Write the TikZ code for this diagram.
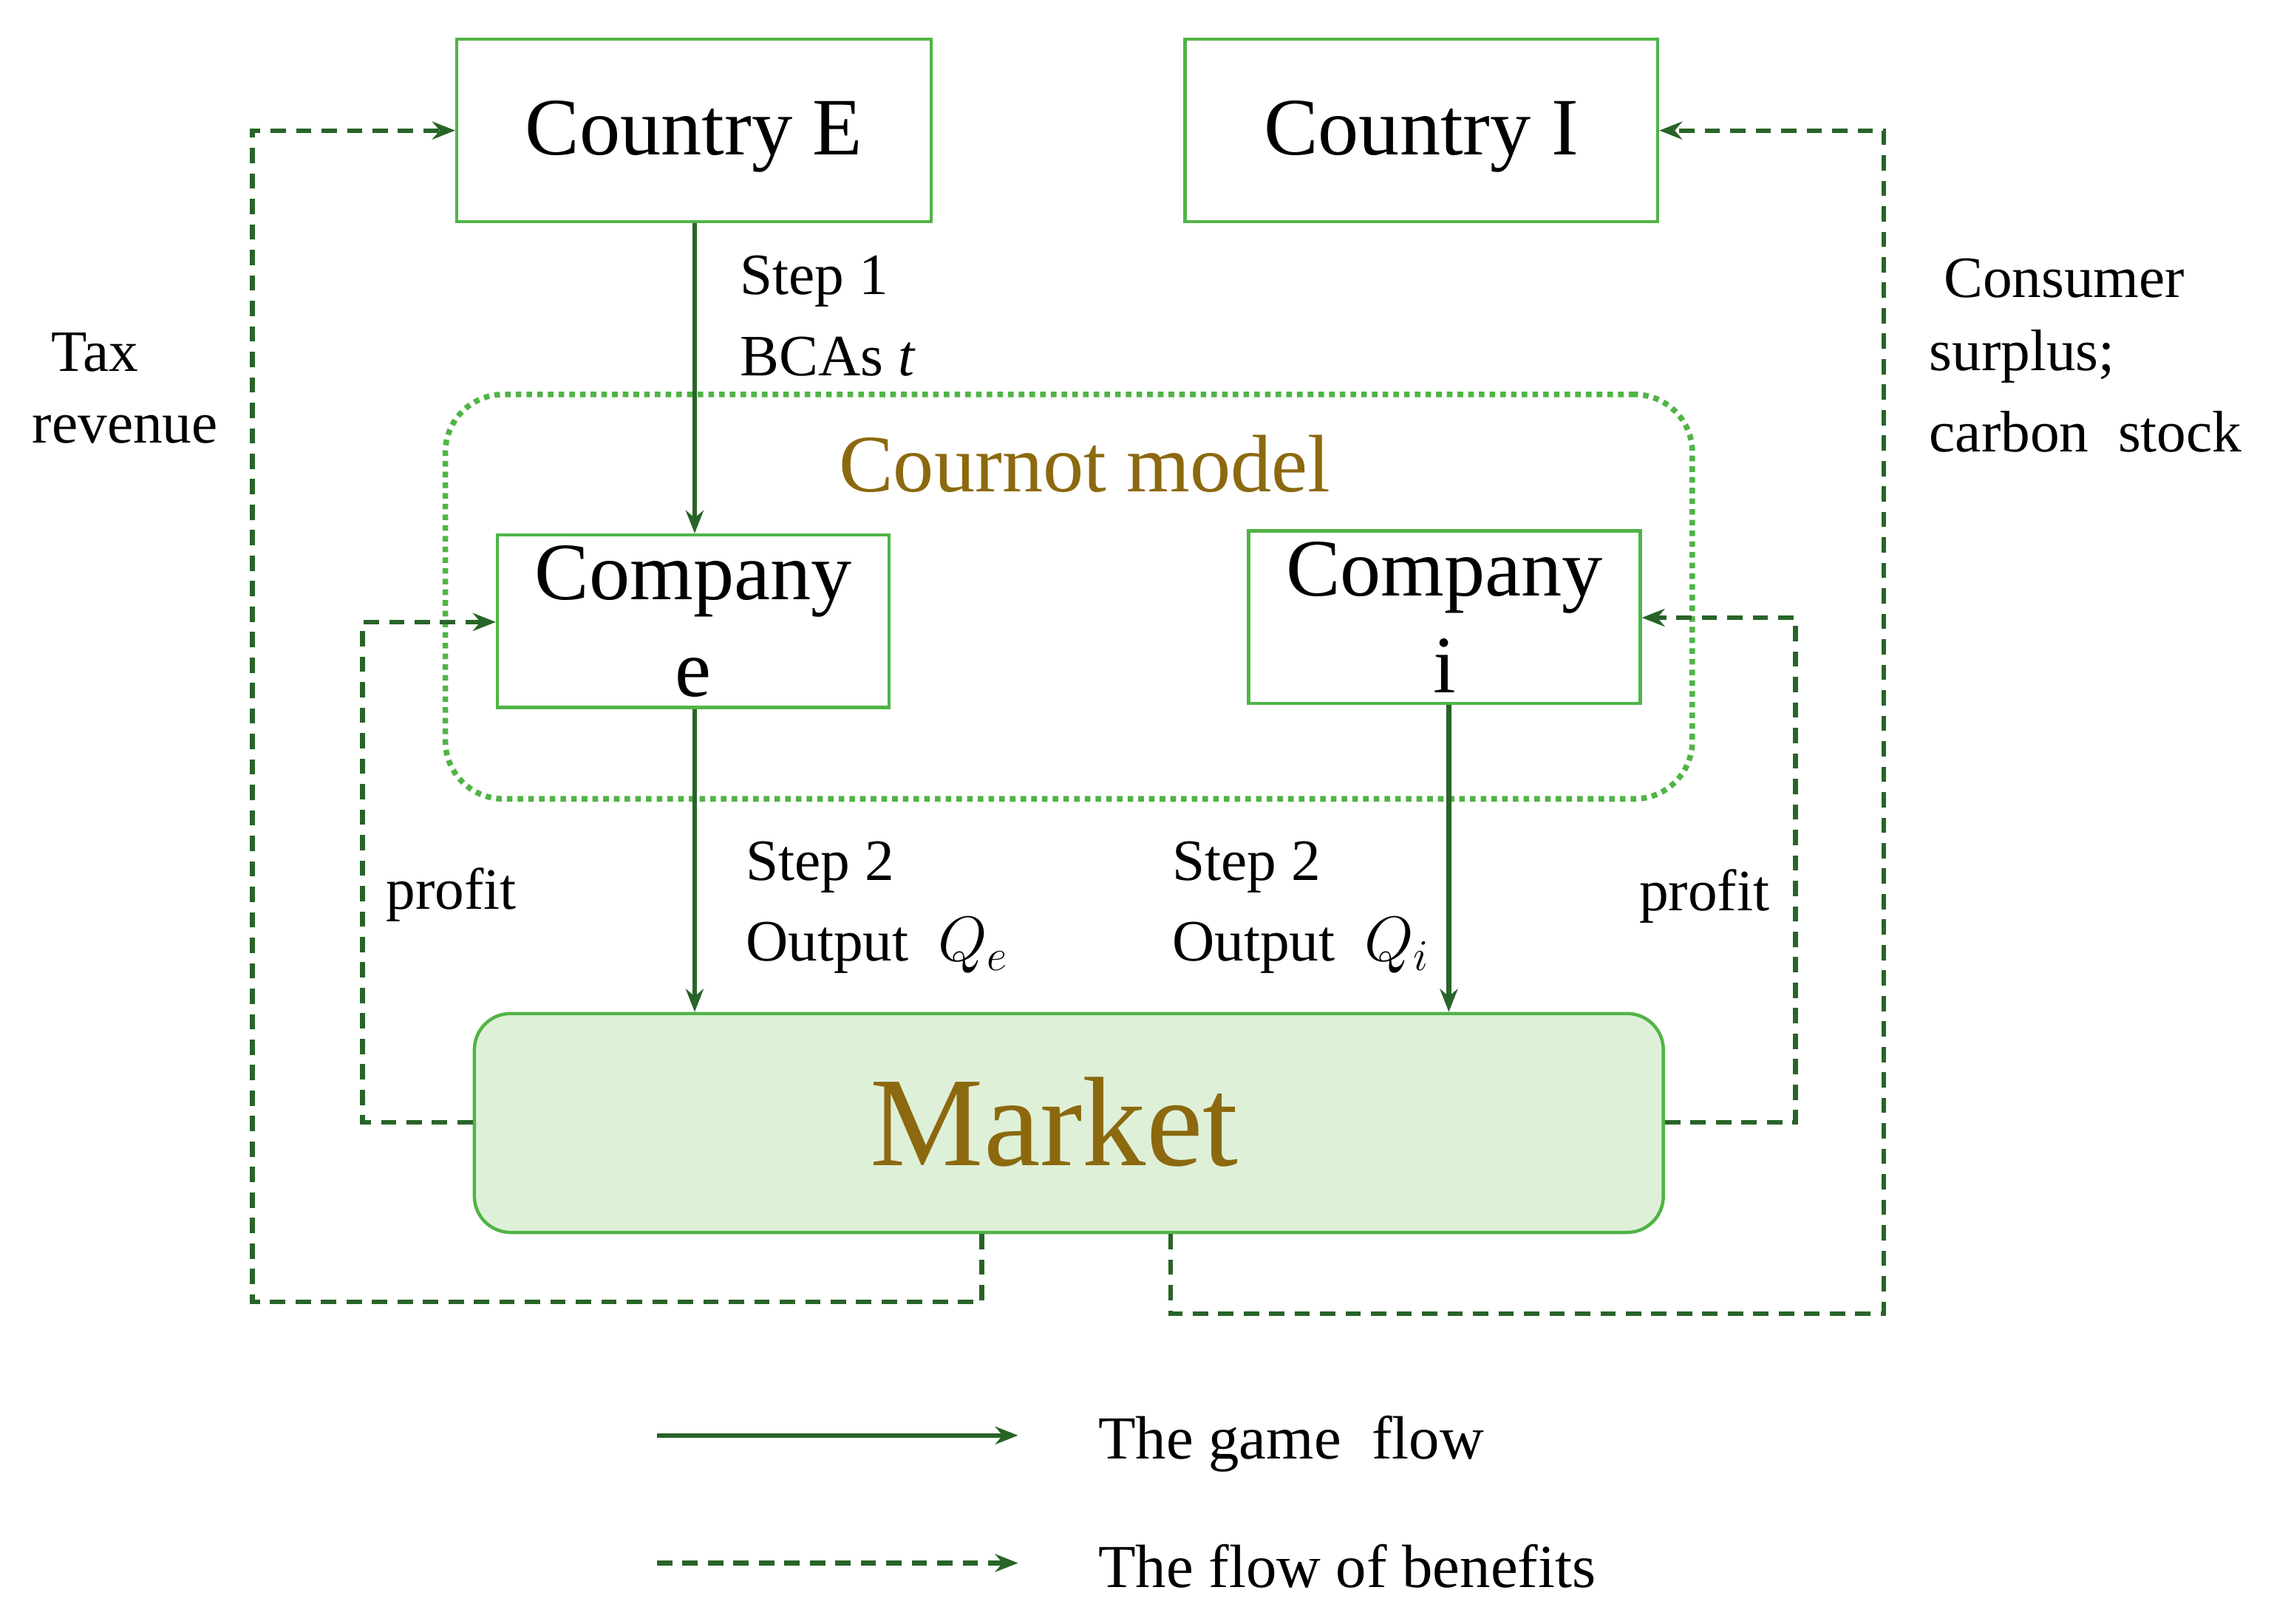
\documentclass[tikz,border=0pt]{standalone}
\usepackage{fontspec}
\setmainfont{Liberation Serif}
\usetikzlibrary{arrows.meta}
\definecolor{boxg}{RGB}{80,180,70}
\definecolor{arrg}{RGB}{40,100,40}
\definecolor{gold}{RGB}{140,105,15}
\definecolor{mfill}{RGB}{222,240,216}
\begin{document}
\begin{tikzpicture}[x=0.02cm,y=-0.02cm,
  box/.style={draw=boxg,line width=1.3pt,inner sep=0pt,align=center,font=\fontsize{32}{38}\selectfont},
  big/.style={font=\fontsize{32}{38}\selectfont,inner sep=0pt},
  lab/.style={anchor=west,inner sep=0pt,align=left,font=\fontsize{23}{27}\selectfont},
  flow/.style={draw=arrg,line width=1.8pt,-{Stealth[length=9pt,width=7pt]}},
  ben/.style={flow,dash pattern=on 6pt off 4pt}]
\useasboundingbox (0,0) rectangle (1568,1120);
\node[box,minimum width=6.54cm,minimum height=2.52cm] (CE) at (478.5,90) {};
\node[big] (CEt) at (478.5,94) {Country E};
\node[box,minimum width=6.52cm,minimum height=2.52cm] (CI) at (980,90) {};
\node[big] (CIt) at (980,94) {Country I};
\node[draw=boxg,line width=2.2pt,dotted,rounded corners=0.8cm,minimum width=17.2cm,minimum height=5.58cm] (CM) at (737,411.5) {};
\node[font=\fontsize{32}{38}\selectfont,text=gold] (CMt) at (748,320) {Cournot model};
\node[box,minimum width=5.4cm,minimum height=2.38cm] (Ce) at (478,428.5) {Company\\e};
\node[box,minimum width=5.4cm,minimum height=2.38cm] (Ci) at (996,425.5) {Company\\i};
\node[box,fill=mfill,rounded corners=0.5cm,minimum width=16.4cm,minimum height=3.02cm] (M) at (737,774.5) {};
\node[font=\fontsize{50}{60}\selectfont,text=gold] (Mt) at (727,774) {Market};
\draw[flow] (CE.south -| 479,0) -- (Ce.north -| 479,0);
\draw[flow] (Ce.south -| 479,0) -- (M.north -| 479,0);
\draw[flow] (Ci.south -| 999,0) -- (M.north -| 999,0);
\node[lab] (s1) at (510,194) {Step 1};
\node[lab] (b1) at (510,246) {BCAs \textit{t}};
\node[lab] (s2a) at (514,598) {Step 2};
\node[lab] (o2a) at (514,652) {Output ~$Q_e$};
\node[lab] (s2b) at (808,598) {Step 2};
\node[lab] (o2b) at (808,652) {Output ~$Q_i$};
\coordinate (a1) at (250,774); \coordinate (a2) at (250,429);
\draw[ben] (M.west |- a1) -- (a1) -- (a2) -- (Ce.west |- a2);
\coordinate (b1c) at (1238,774); \coordinate (b2c) at (1238,426);
\draw[ben] (M.east |- b1c) -- (b1c) -- (b2c) -- (Ci.east |- b2c);
\coordinate (c1) at (677,898); \coordinate (c2) at (174,898); \coordinate (c3) at (174,90);
\draw[ben] (M.south -| c1) -- (c1) -- (c2) -- (c3) -- (CE.west);
\coordinate (d1) at (807,906); \coordinate (d2) at (1299,906); \coordinate (d3) at (1299,90);
\draw[ben] (M.south -| d1) -- (d1) -- (d2) -- (d3) -- (CI.east);
\node[lab] (p1) at (266,617) {profit};
\node[lab] (p2) at (1130,618) {profit};
\node[lab] (t1) at (35,243) {Tax};
\node[lab] (t2) at (22,296) {revenue};
\node[lab] (cs1) at (1340,192) {Consumer};
\node[lab] (cs2) at (1330,246) {surplus;};
\node[lab] (cs3) at (1330,298) {carbon~ stock};
\coordinate (l1) at (453,990); \coordinate (l2) at (702,990);
\coordinate (l3) at (453,1078); \coordinate (l4) at (702,1078);
\draw[flow] (l1) -- (l2);
\draw[ben] (l3) -- (l4);
\node[lab,font=\fontsize{24}{28}\selectfont] (g1) at (757,996) {The game~ flow};
\node[lab,font=\fontsize{24}{28}\selectfont] (g2) at (757,1080) {The flow of benefits};
\end{tikzpicture}
\end{document}
